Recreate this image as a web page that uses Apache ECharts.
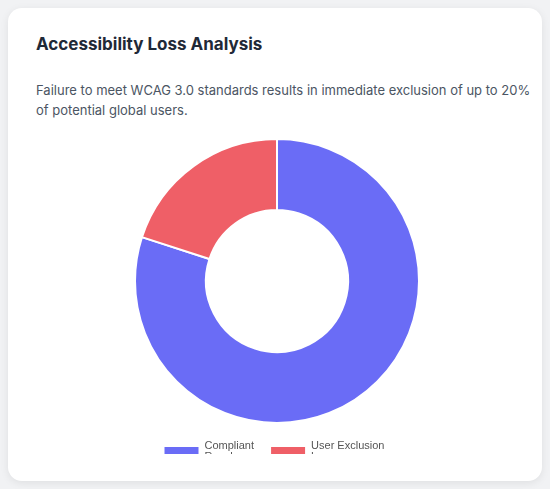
<!DOCTYPE html>
<html><head><meta charset="utf-8">
<script src="https://cdn.jsdelivr.net/npm/echarts@6/dist/echarts.min.js"></script>
<style>
body{margin:0;background:#f1f2f4;width:550px;height:489px;overflow:hidden;font-family:Inter,sans-serif;}
.card{position:absolute;left:8px;top:8px;width:534px;height:473px;background:#fff;border-radius:14px;box-shadow:0 2px 8px rgba(0,0,0,0.08);}
h1{position:absolute;left:28px;top:26px;margin:0;font-size:17px;font-weight:700;color:#1f2937;}
p{position:absolute;left:28px;top:72px;margin:0;width:495px;font-size:13px;line-height:20px;color:#4b5563;}
#c{position:absolute;left:0;top:122px;width:534px;height:324px;overflow:hidden;}
</style></head><body>
<div class="card">
<h1>Accessibility Loss Analysis</h1>
<p>Failure to meet WCAG 3.0 standards results in immediate exclusion of up to 20% of potential global users.</p>
<div id="c"></div>
</div>
<script>
const categories=['Compliant Reach','User Exclusion Loss'];
const values=[80,20];
const colors=['#6a6cf6','#ef5f67'];
const chart=echarts.init(document.getElementById('c'));
chart.setOption({
  animation:false,
  legend:{top:305,left:'center',itemWidth:36,itemHeight:10,itemGap:12,icon:'rect',
    textStyle:{fontSize:11,color:'#555',width:80,overflow:'break',fontFamily:'Liberation Sans, Arial'}},
  series:[{type:'pie',radius:['50%','100%'],center:[269,151],
    label:{show:false},labelLine:{show:false},
    itemStyle:{borderColor:'#fff',borderWidth:2},
    data:categories.map((n,i)=>({name:n,value:values[i],itemStyle:{color:colors[i]}}))}]
});
// radius % is of min(w,h)/2 = 162; want outer 142
chart.setOption({series:[{radius:[71,142]}]});
</script>
</body></html>
